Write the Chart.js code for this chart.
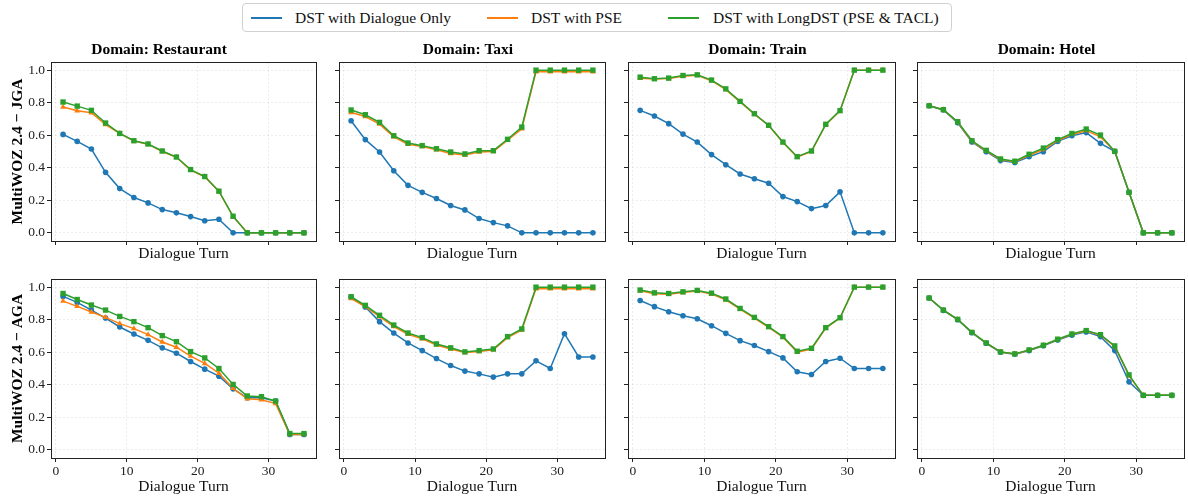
<!DOCTYPE html>
<html lang="en">
<head>
<meta charset="UTF-8">
<title>DST accuracy per dialogue turn</title>
<script src="https://cdn.jsdelivr.net/npm/chart.js@4.4.0/dist/chart.umd.min.js"></script>
<style>
  body { margin: 0; width: 1188px; height: 497px; background: #fff; position: relative; overflow: hidden;
         font-family: 'Liberation Serif', 'Times New Roman', serif; }
  canvas { position: absolute; }
  .legend { position: absolute; left: 242px; top: 3px; width: 708px; height: 27px;
            border: 1px solid #d0d0d0; border-radius: 4px; font-size: 15.5px; color: #111; }
  .legend .item { position: absolute; top: 0; height: 27px; line-height: 27px; white-space: nowrap; }
  .legend .swatch { position: absolute; top: 13px; width: 31px; height: 2px; }
</style>
</head>
<body>
<div class="legend" id="legend"></div>

<script>
// x values (dialogue turn) and axis ticks
const turns = [1, 3, 5, 7, 9, 11, 13, 15, 17, 19, 21, 23, 25, 27, 29, 31, 33, 35];
const xTicks = [0, 10, 20, 30];
const yTicks = [0, 0.2, 0.4, 0.6, 0.8, 1.0];
const domains = ['Restaurant', 'Taxi', 'Train', 'Hotel'];
const metricLabels = ['MultiWOZ 2.4 \u2212 JGA', 'MultiWOZ 2.4 \u2212 AGA'];
const seriesNames = ['DST with Dialogue Only', 'DST with PSE', 'DST with LongDST (PSE & TACL)'];

// JGA
const restJgaDial = [0.605, 0.562, 0.515, 0.372, 0.272, 0.217, 0.184, 0.143, 0.123, 0.100, 0.074, 0.084, 0, 0, 0, 0, 0, 0];
const restJgaPse  = [0.773, 0.750, 0.738, 0.665, 0.611, 0.565, 0.545, 0.500, 0.465, 0.385, 0.345, 0.255, 0.100, 0, 0, 0, 0, 0];
const restJgaLong = [0.804, 0.779, 0.753, 0.675, 0.611, 0.566, 0.546, 0.503, 0.466, 0.389, 0.346, 0.256, 0.102, 0, 0, 0, 0, 0];

const taxiJgaDial = [0.689, 0.573, 0.497, 0.382, 0.292, 0.249, 0.211, 0.168, 0.141, 0.088, 0.063, 0.043, 0, 0, 0, 0, 0, 0];
const taxiJgaPse  = [0.740, 0.715, 0.668, 0.590, 0.545, 0.530, 0.510, 0.488, 0.478, 0.497, 0.500, 0.570, 0.640, 0.99, 0.99, 0.99, 0.99, 0.99];
const taxiJgaLong = [0.755, 0.726, 0.679, 0.597, 0.552, 0.536, 0.517, 0.497, 0.485, 0.505, 0.505, 0.575, 0.650, 1, 1, 1, 1, 1];

const trainJgaDial = [0.753, 0.718, 0.671, 0.607, 0.558, 0.481, 0.419, 0.362, 0.333, 0.305, 0.223, 0.192, 0.149, 0.168, 0.252, 0, 0, 0];
const trainJgaPse  = [0.950, 0.945, 0.948, 0.962, 0.968, 0.935, 0.880, 0.805, 0.730, 0.660, 0.555, 0.465, 0.500, 0.665, 0.750, 1, 1, 1];
const trainJgaLong = [0.957, 0.947, 0.951, 0.967, 0.971, 0.939, 0.885, 0.808, 0.732, 0.661, 0.558, 0.468, 0.503, 0.667, 0.751, 1, 1, 1];

const hotelJgaDial = [0.781, 0.755, 0.676, 0.558, 0.499, 0.444, 0.432, 0.468, 0.499, 0.562, 0.597, 0.616, 0.550, 0.501, 0.249, 0, 0, 0];
const hotelJgaPse  = [0.781, 0.757, 0.680, 0.562, 0.503, 0.450, 0.437, 0.476, 0.512, 0.568, 0.605, 0.628, 0.590, 0.501, 0.249, 0, 0, 0];
const hotelJgaLong = [0.781, 0.757, 0.683, 0.566, 0.507, 0.454, 0.440, 0.483, 0.521, 0.573, 0.611, 0.638, 0.601, 0.501, 0.249, 0, 0, 0];

// AGA
const restAgaDial = [0.943, 0.906, 0.859, 0.810, 0.755, 0.712, 0.673, 0.627, 0.594, 0.543, 0.496, 0.453, 0.375, 0.320, 0.320, 0.300, 0.095, 0.095];
const restAgaPse  = [0.914, 0.882, 0.847, 0.814, 0.776, 0.745, 0.708, 0.663, 0.631, 0.576, 0.531, 0.471, 0.378, 0.314, 0.308, 0.284, 0.094, 0.094];
const restAgaLong = [0.961, 0.924, 0.890, 0.859, 0.820, 0.788, 0.751, 0.702, 0.665, 0.604, 0.565, 0.500, 0.402, 0.331, 0.327, 0.300, 0.100, 0.100];

const taxiAgaDial = [0.939, 0.878, 0.788, 0.718, 0.657, 0.610, 0.561, 0.518, 0.484, 0.467, 0.447, 0.467, 0.467, 0.547, 0.500, 0.714, 0.571, 0.571];
const taxiAgaPse  = [0.930, 0.880, 0.818, 0.758, 0.710, 0.682, 0.644, 0.620, 0.598, 0.604, 0.615, 0.690, 0.737, 0.990, 0.990, 0.990, 0.990, 0.990];
const taxiAgaLong = [0.941, 0.888, 0.827, 0.767, 0.718, 0.690, 0.651, 0.627, 0.602, 0.610, 0.620, 0.696, 0.743, 1, 1, 1, 1, 1];

const trainAgaDial = [0.918, 0.880, 0.849, 0.824, 0.806, 0.763, 0.716, 0.671, 0.641, 0.604, 0.565, 0.480, 0.463, 0.543, 0.563, 0.500, 0.500, 0.500];
const trainAgaPse  = [0.978, 0.960, 0.957, 0.967, 0.976, 0.958, 0.922, 0.865, 0.810, 0.753, 0.692, 0.600, 0.620, 0.748, 0.810, 1, 1, 1];
const trainAgaLong = [0.982, 0.965, 0.961, 0.971, 0.980, 0.963, 0.927, 0.869, 0.814, 0.757, 0.696, 0.606, 0.624, 0.751, 0.812, 1, 1, 1];

const hotelAgaDial = [0.933, 0.857, 0.800, 0.720, 0.655, 0.600, 0.588, 0.610, 0.640, 0.675, 0.705, 0.725, 0.696, 0.610, 0.418, 0.335, 0.335, 0.335];
const hotelAgaPse  = [0.933, 0.858, 0.801, 0.721, 0.656, 0.601, 0.589, 0.612, 0.642, 0.678, 0.710, 0.730, 0.705, 0.635, 0.455, 0.335, 0.335, 0.335];
const hotelAgaLong = [0.933, 0.859, 0.802, 0.722, 0.657, 0.602, 0.590, 0.614, 0.643, 0.680, 0.712, 0.733, 0.708, 0.639, 0.461, 0.335, 0.335, 0.335];

const panels = [
  [[restJgaDial, restJgaPse, restJgaLong], [taxiJgaDial, taxiJgaPse, taxiJgaLong],
   [trainJgaDial, trainJgaPse, trainJgaLong], [hotelJgaDial, hotelJgaPse, hotelJgaLong]],
  [[restAgaDial, restAgaPse, restAgaLong], [taxiAgaDial, taxiAgaPse, taxiAgaLong],
   [trainAgaDial, trainAgaPse, trainAgaLong], [hotelAgaDial, hotelAgaPse, hotelAgaLong]]
];

// styling
const colors = ['#1f77b4', '#ff7f0e', '#2ca02c'];
const pointStyles = ['circle', 'triangle', 'rect'];
const pointRadii = [2.8, 3.4, 3.8];
const FONT = "'Liberation Serif', 'Times New Roman', serif";

// chart-area boxes (page pixels)
const colLeft = [51, 339, 628, 917];
const colRight = [318, 607, 897, 1186];
const rowTop = [62, 279];
const rowBottom = [241, 458];
const xAxisH = [22, 38];
// space above the plot area: title block on the top row, plain padding below
const titleSize = 15.5;
const titlePadBottom = 2.4;
const padTop = [0, 18];
const aboveTop = [titleSize * 1.2 + titlePadBottom, 18];

// legend
const legendEl = document.getElementById('legend');
const swatchX = [8, 244, 425];
const textX = [52, 288, 470];
seriesNames.forEach((name, i) => {
  const sw = document.createElement('div');
  sw.className = 'swatch';
  sw.style.left = swatchX[i] + 'px';
  sw.style.background = colors[i];
  legendEl.appendChild(sw);
  const t = document.createElement('div');
  t.className = 'item';
  t.style.left = textX[i] + 'px';
  t.textContent = name;
  legendEl.appendChild(t);
});

// full box frame round the plot area
const framePlugin = {
  id: 'frame',
  afterDatasetsDraw(chart) {
    const a = chart.chartArea, c = chart.ctx;
    c.save();
    c.strokeStyle = '#222';
    c.lineWidth = 1;
    c.strokeRect(Math.round(a.left) + 0.5, Math.round(a.top) + 0.5,
                 Math.round(a.right - a.left), Math.round(a.bottom - a.top));
    c.restore();
  }
};

for (let r = 0; r < 2; r++) {
  for (let c = 0; c < 4; c++) {
    const yW = c === 0 ? 51 : 10;
    const left = colLeft[c] - yW;
    const width = colRight[c] - left + 2;
    const top = rowTop[r] - aboveTop[r];
    const height = rowBottom[r] + xAxisH[r] - top;

    const canvas = document.createElement('canvas');
    canvas.width = width;
    canvas.height = Math.ceil(height);
    canvas.style.left = left + 'px';
    canvas.style.top = top + 'px';
    document.body.appendChild(canvas);

    const datasets = panels[r][c].map((vals, i) => ({
      label: seriesNames[i],
      data: turns.map((t, k) => ({ x: t, y: vals[k] })),
      borderColor: colors[i],
      backgroundColor: colors[i],
      borderWidth: 1.5,
      pointStyle: pointStyles[i],
      pointRadius: pointRadii[i],
      pointBorderWidth: 0,
      order: 2 - i,
      tension: 0
    }));

    new Chart(canvas, {
      type: 'line',
      data: { datasets },
      plugins: [framePlugin],
      options: {
        responsive: false,
        animation: false,
        devicePixelRatio: 1,
        layout: { padding: { top: padTop[r], right: 2, left: 0, bottom: 0 } },
        plugins: {
          legend: { display: false },
          tooltip: { enabled: false },
          title: {
            display: r === 0,
            text: 'Domain: ' + domains[c],
            color: '#000',
            font: { family: FONT, size: titleSize, weight: 'bold', lineHeight: 1.2 },
            padding: { top: 0, bottom: titlePadBottom }
          }
        },
        scales: {
          x: {
            type: 'linear',
            min: -0.7,
            max: 36.7,
            afterBuildTicks: s => { s.ticks = xTicks.map(v => ({ value: v })); },
            afterFit: s => { s.height = xAxisH[r]; },
            ticks: { display: r === 1, color: '#222', padding: 1, font: { family: FONT, size: 13.5 } },
            grid: { color: 'rgba(0,0,0,0.07)', tickColor: '#222', tickLength: 4, tickWidth: 1 },
            border: { display: false, dash: [2, 2] },
            title: { display: true, text: 'Dialogue Turn', color: '#111',
                     font: { family: FONT, size: 15.5 }, padding: { top: 0, bottom: 0 } }
          },
          y: {
            min: -0.05,
            max: 1.05,
            afterBuildTicks: s => { s.ticks = yTicks.map(v => ({ value: v })); },
            afterFit: s => { s.width = yW; },
            ticks: { display: c === 0, color: '#222', padding: 2,
                     font: { family: FONT, size: 13.5 }, callback: v => v.toFixed(1) },
            grid: { color: 'rgba(0,0,0,0.07)', tickColor: '#222', tickLength: 4, tickWidth: 1 },
            border: { display: false, dash: [2, 2] },
            title: { display: c === 0, text: metricLabels[r], color: '#000',
                     font: { family: FONT, size: 15.5, weight: 'bold' }, padding: { top: 9, bottom: 0 } }
          }
        }
      }
    });
  }
}
</script>
</body>
</html>
